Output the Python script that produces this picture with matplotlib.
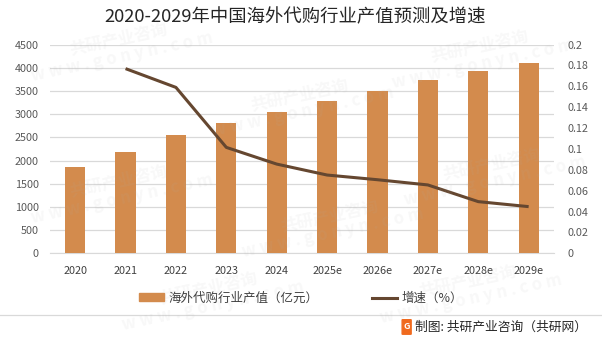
import numpy as np
import matplotlib.pyplot as plt
from matplotlib.lines import Line2D
from matplotlib.patches import FancyBboxPatch

plt.rcParams['font.family'] = ['Noto Sans CJK SC', 'DejaVu Sans']

years = ['2020', '2021', '2022', '2023', '2024', '2025e', '2026e', '2027e', '2028e', '2029e']
output_value = [1850, 2180, 2550, 2800, 3050, 3290, 3500, 3740, 3930, 4100]
growth_years = years[1:]
growth_rate = [0.177, 0.159, 0.1015, 0.0855, 0.075, 0.0705, 0.0655, 0.0495, 0.0447]

bar_color = '#D38B4D'
line_color = '#654730'
tick_color = '#595959'

fig = plt.figure(figsize=(6.02, 3.46), dpi=100)
ax = fig.add_axes([0.083, 0.268, 0.837, 0.603])
ax2 = ax.twinx()

x = np.arange(len(years))
ax.bar(x, output_value, width=0.4, color=bar_color, zorder=3)
gx = [years.index(y) for y in growth_years]
ax2.plot(gx, growth_rate, color=line_color, lw=2.2, zorder=4, solid_capstyle='butt')

ax.set_xlim(-0.5, len(years) - 0.5)
ax.set_ylim(0, 4500)
ax.set_yticks(np.arange(0, 4501, 500))
ax2.set_ylim(0, 0.2)
ax2.set_yticks(np.arange(0, 0.201, 0.02))
ax2.set_yticklabels(['0', '0.02', '0.04', '0.06', '0.08', '0.1', '0.12', '0.14', '0.16', '0.18', '0.2'])
ax.set_xticks(x)
ax.set_xticklabels(years)

ax.grid(axis='y', color='#D9D9D9', lw=0.9, zorder=0)
for a in (ax, ax2):
    for s in a.spines.values():
        s.set_visible(False)
    a.tick_params(length=0, labelsize=7.8, colors=tick_color)
ax.spines['bottom'].set_visible(True)
ax.spines['bottom'].set_color('#D9D9D9')
ax.tick_params(axis='y', pad=8)
ax2.tick_params(axis='y', pad=10)
ax.tick_params(axis='x', pad=9)
for lbl in ax.get_xticklabels():
    lbl.set_color('#404040')

fig.text(0.49, 0.95, '2020-2029年中国海外代购行业产值预测及增速',
         ha='center', va='center', fontsize=13.2, color='#262626')

# legend
handles = [plt.Rectangle((0, 0), 1, 1, color=bar_color),
           Line2D([0], [0], color=line_color, lw=2.2)]
fig.legend(handles, ['海外代购行业产值（亿元）', '增速（%）'], loc='center',
           bbox_to_anchor=(0.5, 0.138), ncol=2, frameon=False, fontsize=9,
           handlelength=2.0, handleheight=0.6, columnspacing=4.2, handletextpad=0.4,
           labelcolor='#404040')

# separator and footer
fig.add_artist(Line2D([0, 1], [0.09, 0.09], color='#D9D9D9', lw=0.9))
fig.add_artist(FancyBboxPatch((0.669, 0.035), 0.013, 0.04,
                              boxstyle='round,pad=0.001', color='#F06A1E'))
fig.text(0.6755, 0.055, 'G', ha='center', va='center', fontsize=6.5,
         color='white', fontweight='bold')
fig.text(0.69, 0.055, '制图: 共研产业咨询（共研网）', ha='left', va='center',
         fontsize=9.2, color='#262626')

# faint watermarks
for wx, wy in [(0.2, 0.86), (0.5, 0.7), (0.8, 0.84), (0.2, 0.45),
               (0.55, 0.35), (0.82, 0.5), (0.35, 0.14), (0.78, 0.16)]:
    fig.text(wx, wy, '共研产业咨询\nw w w . g o n y n . c o m', ha='center', va='center',
             fontsize=12, color='#B0B0B0', alpha=0.09, rotation=12,
             fontweight='bold', linespacing=0.9)

fig.savefig('out.png', dpi=100)
